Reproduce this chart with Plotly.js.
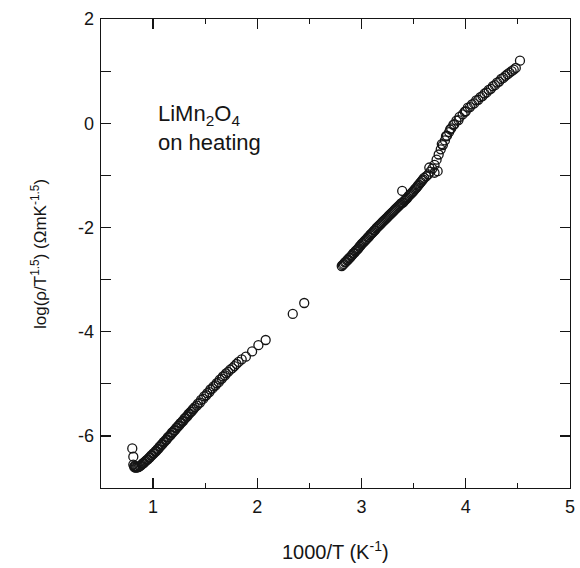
<!DOCTYPE html>
<html>
<head>
<meta charset="utf-8">
<script src="https://cdn.plot.ly/plotly-3.0.1.min.js"></script>
<style>html,body{margin:0;padding:0;background:#fff;}#chart{width:580px;height:568px;}</style>
</head>
<body>
<div id="chart"></div>
<script>
// High-temperature run (1000/T from 0.8 to 2.1)
const x1 = [0.80,0.81,0.81,0.82,0.82,0.83,0.83,0.84,0.85,0.86,0.87,0.88,0.89,0.90,0.91,0.92,0.93,0.94,0.95,0.96,0.97,0.98,0.99,1.00,
  1.01,1.02,1.03,1.04,1.05,1.06,1.07,1.08,1.09,1.10,1.11,1.12,1.13,1.14,1.15,1.16,1.17,1.18,1.19,1.20,1.21,1.22,1.23,1.24,1.25,1.26,1.27,1.28,1.29,1.30,
  1.31,1.32,1.33,1.34,1.35,1.36,1.37,1.38,1.39,1.40,1.42,1.43,1.45,1.46,1.48,1.49,1.51,1.52,1.54,1.55,1.57,1.58,1.60,1.61,1.63,1.64,1.66,1.67,1.69,1.70,
  1.72,1.74,1.76,1.78,1.80,1.82,1.85,1.89,1.95,2.01,2.08];
const y1 = [-6.24,-6.40,-6.55,-6.58,-6.60,-6.61,-6.58,-6.61,-6.60,-6.60,-6.58,-6.57,-6.55,-6.53,-6.52,-6.50,-6.48,-6.46,-6.45,-6.42,-6.41,-6.38,-6.37,-6.34,
  -6.33,-6.30,-6.29,-6.26,-6.25,-6.21,-6.20,-6.17,-6.16,-6.12,-6.11,-6.08,-6.07,-6.03,-6.02,-5.99,-5.98,-5.94,-5.93,-5.90,-5.89,-5.85,-5.84,-5.81,-5.80,-5.76,-5.75,-5.72,-5.71,-5.67,
  -5.66,-5.63,-5.62,-5.58,-5.57,-5.54,-5.53,-5.49,-5.48,-5.45,-5.42,-5.38,-5.36,-5.31,-5.29,-5.24,-5.22,-5.18,-5.16,-5.11,-5.09,-5.05,-5.03,-4.99,-4.97,-4.92,-4.90,-4.86,-4.84,-4.80,
  -4.77,-4.73,-4.70,-4.66,-4.62,-4.58,-4.53,-4.48,-4.38,-4.26,-4.16];

// Isolated intermediate points
const x2 = [2.34, 2.45];
const y2 = [-3.66, -3.45];

// Low-temperature run (1000/T from 2.8 to 4.5)
const x3 = [2.81,2.82,2.83,2.84,2.85,2.86,2.87,2.88,2.89,2.90,2.91,2.92,2.93,2.94,2.95,2.96,2.97,2.98,2.99,3.00,
  3.01,3.02,3.03,3.04,3.05,3.06,3.07,3.08,3.09,3.10,3.11,3.12,3.13,3.14,3.15,3.16,3.17,3.18,3.19,3.20,
  3.21,3.22,3.23,3.24,3.25,3.26,3.27,3.28,3.29,3.30,3.31,3.32,3.33,3.34,3.35,3.36,3.37,3.38,3.39,3.40,
  3.41,3.42,3.43,3.44,3.45,3.46,3.47,3.48,3.49,3.50,3.51,3.52,3.53,3.54,3.55,3.56,3.57,3.58,3.59,3.39,
  3.60,3.62,3.64,3.65,3.66,3.68,3.70,3.70,3.72,3.73,3.74,3.76,3.78,3.80,3.82,3.84,3.86,3.88,3.91,3.94,3.97,
  4.00,4.04,4.08,4.12,4.16,4.20,4.24,4.28,4.32,4.36,4.40,4.44,4.48,4.52,
  3.77,3.81,3.85,3.89,3.93,3.99,4.02,4.06,4.10,4.14,4.18,4.22,4.26,4.30,4.34,4.38,4.42,4.46];
const y3 = [-2.74,-2.72,-2.70,-2.67,-2.66,-2.63,-2.62,-2.59,-2.58,-2.55,-2.53,-2.50,-2.49,-2.46,-2.44,-2.42,-2.40,-2.37,-2.35,-2.32,
  -2.30,-2.28,-2.26,-2.24,-2.22,-2.19,-2.18,-2.15,-2.13,-2.11,-2.09,-2.06,-2.05,-2.02,-2.00,-1.98,-1.96,-1.94,-1.92,-1.90,
  -1.88,-1.86,-1.84,-1.82,-1.80,-1.78,-1.76,-1.74,-1.72,-1.70,-1.68,-1.66,-1.64,-1.62,-1.60,-1.58,-1.56,-1.54,-1.53,-1.52,
  -1.49,-1.47,-1.45,-1.43,-1.40,-1.38,-1.36,-1.34,-1.32,-1.30,-1.27,-1.25,-1.23,-1.20,-1.18,-1.15,-1.13,-1.10,-1.08,-1.30,
  -1.05,-1.02,-0.98,-0.85,-0.93,-0.87,-0.80,-0.95,-0.70,-0.92,-0.60,-0.50,-0.42,-0.33,-0.24,-0.17,-0.10,-0.03,0.05,0.12,0.17,
  0.23,0.31,0.38,0.45,0.52,0.59,0.66,0.73,0.80,0.87,0.94,1.00,1.06,1.20,
  -0.40,-0.25,-0.12,-0.02,0.06,0.22,0.30,0.36,0.44,0.50,0.57,0.64,0.71,0.78,0.85,0.91,0.97,1.03];

const xTicks = [1, 2, 3, 4, 5];
const xTickText = ['1', '2', '3', '4', '5'];
const yTicks = [-6, -4, -2, 0, 2];
const yTickText = ['-6', '-4', '-2', '0', '2'];

const ink = '#151515';
const mk = {symbol: 'circle-open', size: 9, color: ink, line: {width: 1.3, color: ink}};
const traces = [
  {x: x1, y: y1, type: 'scatter', mode: 'markers', marker: mk, showlegend: false},
  {x: x2, y: y2, type: 'scatter', mode: 'markers', marker: mk, showlegend: false},
  {x: x3, y: y3, type: 'scatter', mode: 'markers', marker: mk, showlegend: false},
  // empty trace so the top frame axis gets drawn
  {x: [], y: [], xaxis: 'x2', yaxis: 'y', type: 'scatter', mode: 'markers', showlegend: false, hoverinfo: 'skip'}
];

const fam = 'Liberation Sans, Arial, sans-serif';
function f(size) { return {family: fam, size: size, color: ink}; }
function axis(range, vals, text, minorStep, extra) {
  return Object.assign({
    range: range, tickmode: 'array', tickvals: vals, ticktext: text,
    showline: true, linecolor: ink, linewidth: 1.3, mirror: false,
    ticks: 'inside', ticklen: 10, tickwidth: 1.3, tickcolor: ink,
    minor: {dtick: minorStep, tick0: 0, ticks: 'inside', ticklen: 5, tickwidth: 1.2, tickcolor: ink},
    showgrid: false, zeroline: false, tickfont: f(18), fixedrange: true
  }, extra || {});
}
const layout = {
  width: 580, height: 568,
  margin: {l: 101, r: 10, t: 19, b: 80},
  paper_bgcolor: '#fff', plot_bgcolor: '#fff',
  font: {family: fam, color: ink},
  xaxis: axis([0.5, 5], xTicks, xTickText, 0.5, {ticklabelstandoff: 2}),
  yaxis: axis([-7, 2], yTicks, yTickText, 1, {ticklabelstandoff: 2, mirror: 'allticks'}),
  xaxis2: axis([0.5, 5], xTicks, xTickText, 0.5, {overlaying: 'x', side: 'top', anchor: 'y', showticklabels: false}),
  annotations: [
    {xref: 'x', yref: 'y', x: 1.03, y: 0.46, xanchor: 'left', yanchor: 'top', align: 'left',
     showarrow: false, text: 'LiMn<sub>2</sub>O<sub>4</sub><br>on heating', font: f(22)},
    {xref: 'paper', yref: 'paper', x: 0.499, y: -0.134, xanchor: 'center', yanchor: 'middle',
     showarrow: false, text: '1000/T (K<sup>-1</sup>)', font: f(20)},
    {xref: 'paper', yref: 'paper', x: -0.1333, y: 0.5, xanchor: 'center', yanchor: 'middle', textangle: -90,
     showarrow: false, text: 'log(ρ/T<sup>1.5</sup>) (ΩmK<sup>-1.5</sup>)', font: f(17)}
  ]
};
Plotly.newPlot('chart', traces, layout, {staticPlot: true, displayModeBar: false});
</script>
</body>
</html>
